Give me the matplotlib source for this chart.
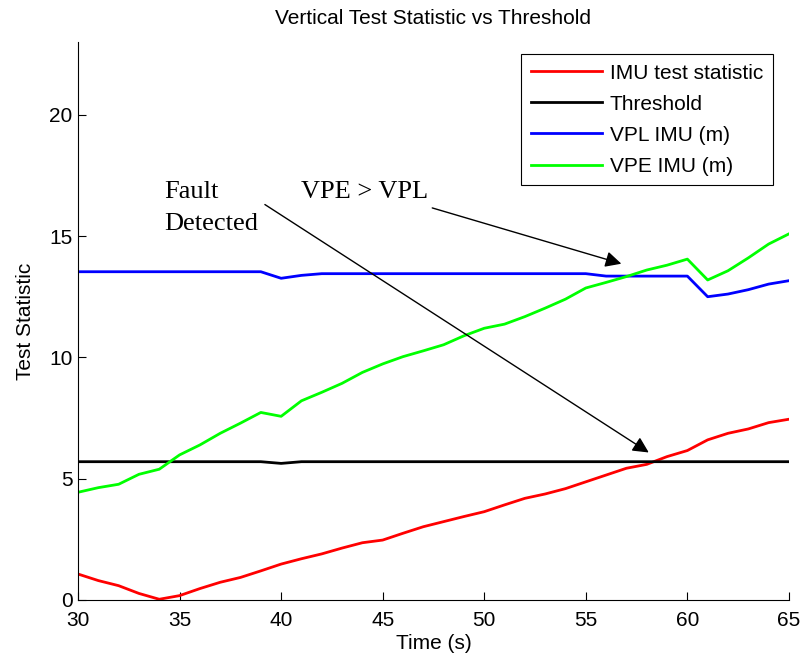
# vertical test statistic vs threshold plot
import matplotlib
matplotlib.use('Agg')
import matplotlib.pyplot as plt

plt.rcParams['font.family'] = 'Liberation Sans'

# time axis (s)
timeLst = list(range(30, 66))

# values, one per second
imuTestStat = [1.07, 0.80, 0.59, 0.27, 0.03, 0.18, 0.47, 0.73, 0.93, 1.20,
               1.48, 1.70, 1.90, 2.14, 2.36, 2.47, 2.75, 3.02, 3.23, 3.44,
               3.64, 3.92, 4.19, 4.37, 4.59, 4.87, 5.15, 5.43, 5.59, 5.91,
               6.16, 6.60, 6.87, 7.05, 7.31, 7.45]
threshold = [5.70] * 10 + [5.63] + [5.70] * 25
vplImu = [13.53] * 10 + [13.26, 13.38] + [13.45] * 14 + [13.35] * 5 + \
         [12.50, 12.61, 12.79, 13.02, 13.16]
vpeImu = [4.44, 4.63, 4.77, 5.18, 5.39, 5.98, 6.39, 6.87, 7.29, 7.73,
          7.57, 8.21, 8.56, 8.93, 9.38, 9.73, 10.03, 10.27, 10.52, 10.89,
          11.20, 11.37, 11.68, 12.03, 12.40, 12.86, 13.09, 13.33, 13.60, 13.80,
          14.05, 13.19, 13.57, 14.10, 14.67, 15.09]

fig = plt.figure(figsize=(8.06, 6.61), dpi=100)
ax = fig.add_axes([0.0968, 0.0923, 0.882, 0.8442])

ax.plot(timeLst, imuTestStat, color='#ff0000', lw=2, label='IMU test statistic')
ax.plot(timeLst, threshold, color='black', lw=2, label='Threshold')
ax.plot(timeLst, vplImu, color='#0000ff', lw=2, label='VPL IMU (m)')
ax.plot(timeLst, vpeImu, color='#00ff00', lw=2, label='VPE IMU (m)')

ax.set_xlim(30, 65)
ax.set_ylim(0, 23)
ax.set_xticks(range(30, 66, 5))
ax.set_yticks([0, 5, 10, 15, 20])
ax.tick_params(direction='in', labelsize=15, length=6)
ax.tick_params(axis='x', pad=8)
ax.tick_params(axis='y', pad=4)
ax.spines['top'].set_visible(False)
ax.spines['right'].set_visible(False)

ax.set_xlabel('Time (s)', fontsize=15, labelpad=3)
ax.set_ylabel('Test Statistic', fontsize=15, labelpad=10)
ax.set_title('Vertical Test Statistic vs Threshold', fontsize=15, pad=13)

# annotations
serif = 'Liberation Serif'
ax.text(34.25, 16.56, 'Fault', family=serif, fontsize=19, va='baseline')
ax.text(34.25, 15.24, 'Detected', family=serif, fontsize=19, va='baseline')
ax.text(41.0, 16.56, 'VPE > VPL', family=serif, fontsize=19, va='baseline')
ax.annotate('', xy=(58.1, 6.08), xytext=(39.2, 16.3),
            arrowprops=dict(arrowstyle='-|>', color='black', lw=1,
                            mutation_scale=24, shrinkA=0, shrinkB=0))
ax.annotate('', xy=(56.75, 13.86), xytext=(47.44, 16.16),
            arrowprops=dict(arrowstyle='-|>', color='black', lw=1,
                            mutation_scale=24, shrinkA=0, shrinkB=0))

leg = ax.legend(loc='upper right', bbox_to_anchor=(0.977, 0.978), fontsize=15,
                fancybox=False, edgecolor='black', framealpha=1,
                handlelength=3.4, handletextpad=0.4, borderpad=0.45,
                labelspacing=0.58, borderaxespad=0)
leg.get_frame().set_linewidth(0.8)

plt.savefig('out.png', dpi=100)
